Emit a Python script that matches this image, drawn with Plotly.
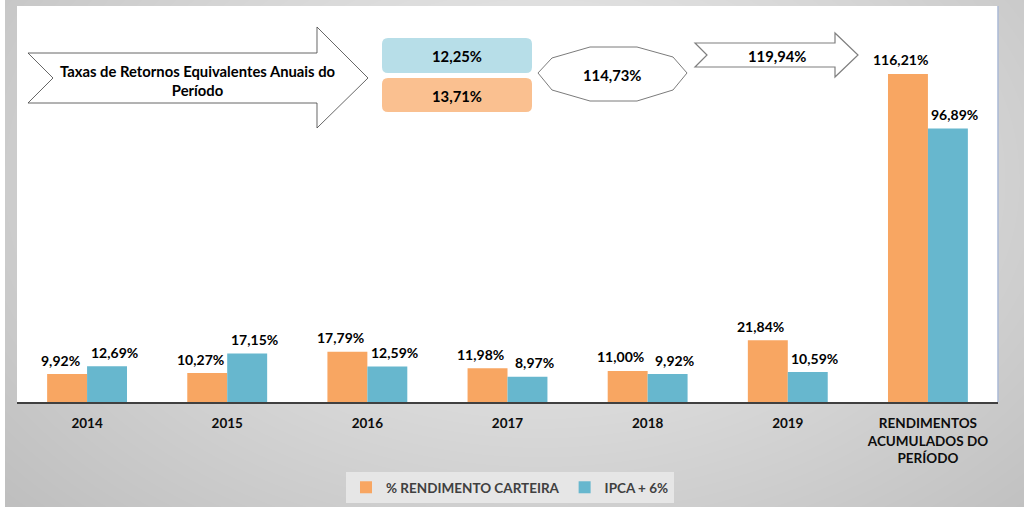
import base64
import struct
import zlib

import numpy as np
import plotly.graph_objects as go

# ---- data -------------------------------------------------------------
categories = ["2014", "2015", "2016", "2017", "2018", "2019", "ACUMULADO"]
tick_labels = ["2014", "2015", "2016", "2017", "2018", "2019",
               "RENDIMENTOS<br>ACUMULADOS DO<br>PERÍODO"]
rendimento_carteira = [9.92, 10.27, 17.79, 11.98, 11.00, 21.84, 116.21]
ipca_mais_6 = [12.69, 17.15, 12.59, 8.97, 9.92, 10.59, 96.89]

taxa_anual_ipca = 12.25
taxa_anual_carteira = 13.71
acumulado_meta = 114.73
acumulado_total = 119.94

series_names = ["% RENDIMENTO CARTEIRA", "IPCA + 6%"]

# ---- styling ----------------------------------------------------------
ORANGE = "#F8A662"
BLUE = "#67B7CE"
BOX_BLUE = "#B7DEE8"
BOX_ORANGE = "#FAC090"
FONT = "Lato"
FS = 13.5

W, H = 1024, 507
ML, MR, MT, MB = 17, 26, 6, 105
PW, PH = W - ML - MR, H - MT - MB


def pct(v):
    return f"{v:.2f}%".replace(".", ",")


def px(x):
    """pixel x -> paper x"""
    return (x - ML) / PW


def py(y):
    """pixel y -> paper y"""
    return (H - MB - y) / PH


def path(points):
    return "M" + "L".join(f"{px(x):.5f},{py(y):.5f}" for x, y in points) + "Z"


def rounded_rect(x0, y0, x1, y1, r):
    rx, ry = r / PW, r / PH
    a, b, c, d = px(x0), py(y1), px(x1), py(y0)  # left, bottom, right, top
    return (f"M{a + rx},{d} L{c - rx},{d} Q{c},{d} {c},{d - ry} "
            f"L{c},{b + ry} Q{c},{b} {c - rx},{b} L{a + rx},{b} "
            f"Q{a},{b} {a},{b + ry} L{a},{d - ry} Q{a},{d} {a + rx},{d} Z")


# ---- soft gray backdrop with white plotting area ------------------------
yy, xx = np.mgrid[0:H, 0:W].astype(float)
r = np.sqrt(((xx - 540) / 620) ** 2 + ((yy - 180) / 420) ** 2)
shade = np.clip(242 - 44 * r, 185, 245)
shade[:, :5] = 255
shade[MT:H - MB, ML:W - MR] = 255
img = shade.astype(np.uint8)


def png_gray(a):
    h, w = a.shape
    raw = b"".join(b"\x00" + a[i].tobytes() for i in range(h))

    def chunk(tag, data):
        out = struct.pack(">I", len(data)) + tag + data
        return out + struct.pack(">I", zlib.crc32(tag + data) & 0xFFFFFFFF)

    return (b"\x89PNG\r\n\x1a\n"
            + chunk(b"IHDR", struct.pack(">IIBBBBB", w, h, 8, 0, 0, 0, 0))
            + chunk(b"IDAT", zlib.compress(raw, 9))
            + chunk(b"IEND", b""))


bg_src = "data:image/png;base64," + base64.b64encode(png_gray(img)).decode()

# ---- figure -----------------------------------------------------------
fig = go.Figure()
fig.add_trace(go.Bar(x=categories, y=rendimento_carteira, name=series_names[0],
                     marker=dict(color=ORANGE, line=dict(width=0))))
fig.add_trace(go.Bar(x=categories, y=ipca_mais_6, name=series_names[1],
                     marker=dict(color=BLUE, line=dict(width=0))))

annotations = []
label_font = dict(family=FONT, size=14, color="#000000", weight="bold")
shape_font = dict(family=FONT, size=14.8, color="#000000", weight="bold")
for values, dx in ((rendimento_carteira, -27), (ipca_mais_6, 27)):
    for i, v in enumerate(values):
        # category axis: position the value label by category index
        annotations.append(dict(x=i, y=v, xref="x", yref="y", text=pct(v),
                                showarrow=False, xshift=dx, yshift=14,
                                yanchor="middle", font=label_font))

shapes = [
    # big arrow with notched tail
    dict(type="path", xref="paper", yref="paper",
         path=path([(28, 53), (317, 53), (317, 27), (368, 78), (317, 128),
                    (317, 103), (28, 103), (53, 78)]),
         fillcolor="white", line=dict(color="#404040", width=0.8)),
    # rounded boxes
    dict(type="path", xref="paper", yref="paper",
         path=rounded_rect(382, 38, 532, 73, 6),
         fillcolor=BOX_BLUE, line=dict(width=0)),
    dict(type="path", xref="paper", yref="paper",
         path=rounded_rect(382, 78, 532, 112, 6),
         fillcolor=BOX_ORANGE, line=dict(width=0)),
    # polygon badge
    dict(type="path", xref="paper", yref="paper",
         path=path([(538, 73), (552, 58), (590, 47), (637, 47), (673, 57),
                    (687, 73), (673, 90), (637, 101), (590, 101), (552, 90)]),
         fillcolor="white", line=dict(color="#595959", width=0.8)),
    # small arrow
    dict(type="path", xref="paper", yref="paper",
         path=path([(695, 43), (835, 43), (835, 33), (858, 55), (835, 77),
                    (835, 67), (695, 67), (707, 55)]),
         fillcolor="white", line=dict(color="#7f7f7f", width=1.2)),
    # right edge of plot area
    dict(type="line", xref="paper", yref="paper", x0=px(998), x1=px(998),
         y0=py(6), y1=py(402), line=dict(color="#aab8d4", width=1.5)),
]

text_items = [
    ("Taxas de Retornos Equivalentes Anuais do<br>Período", 197, 80),
    (pct(taxa_anual_ipca), 457, 56),
    (pct(taxa_anual_carteira), 457, 96),
    (pct(acumulado_meta), 612, 75),
    (pct(acumulado_total), 777, 56),
]
for txt, x, y in text_items:
    annotations.append(dict(x=px(x), y=py(y), xref="paper", yref="paper",
                            text=txt, showarrow=False, xanchor="center",
                            yanchor="middle", font=shape_font))

fig.update_layout(
    width=W, height=H,
    margin=dict(l=ML, r=MR, t=MT, b=MB, pad=0, autoexpand=False),
    barmode="group", bargap=0.43, bargroupgap=0,
    paper_bgcolor="white", plot_bgcolor="white",
    font=dict(family=FONT, size=FS, color="#000000"),
    showlegend=True,
    legend=dict(orientation="h", x=px(510), xanchor="center",
                y=py(487.5), yanchor="middle", bgcolor="#e6e6e6",
                font=dict(family=FONT, size=FS, color="#404040", weight="bold")),
    xaxis=dict(type="category", categoryorder="array", categoryarray=categories,
               range=[-0.5, len(categories) - 0.5],
               tickvals=categories, ticktext=tick_labels, ticks="",
               tickangle=0, automargin=False,
               showline=True, linecolor="#404040", linewidth=1.5,
               showgrid=False, zeroline=False, ticklabelstandoff=8,
               tickfont=dict(family=FONT, size=FS, color="#0d0d0d", weight="bold")),
    yaxis=dict(range=[0, 140.3], visible=False, showgrid=False, automargin=False),
    shapes=shapes,
    annotations=annotations,
    images=[dict(source=bg_src, xref="paper", yref="paper",
                 x=-ML / PW, y=1 + MT / PH, sizex=W / PW, sizey=H / PH,
                 xanchor="left", yanchor="top", sizing="stretch",
                 layer="below")],
)

fig.write_html("out.html")
